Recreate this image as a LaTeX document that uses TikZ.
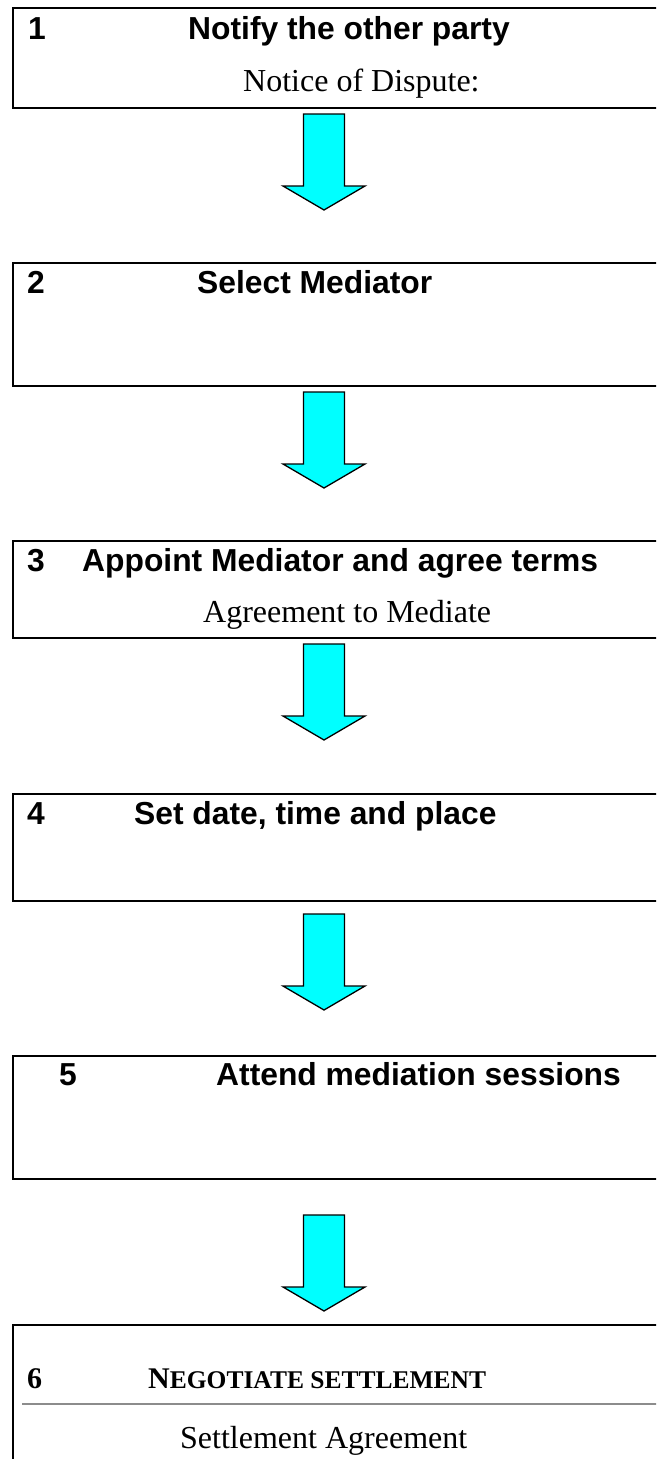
\documentclass[tikz,border=0pt]{standalone}
\usepackage{fontspec}
\setmainfont{Liberation Serif}
\newfontfamily\headfont{Liberation Sans}
\definecolor{aqua}{RGB}{0,255,255}
\definecolor{rulegray}{RGB}{140,140,140}
\begin{document}
\begin{tikzpicture}[x=1pt,y=-1pt,
  box/.style={draw=black, line width=2.2pt, anchor=north west, minimum width=690pt, inner sep=0pt},
  head/.style={anchor=base west, inner sep=0pt, font=\headfont\bfseries\fontsize{31.8pt}{36pt}\selectfont},
  sub/.style={anchor=base west, inner sep=0pt, font=\fontsize{32pt}{36pt}\selectfont},
  smc/.style={anchor=base west, inner sep=0pt, font=\bfseries\fontsize{30pt}{36pt}\selectfont},
  blockarrow/.style={draw=black, line width=1.3pt, fill=aqua, line join=miter},
  downarrow/.pic={\draw[blockarrow] (-20.5,0) -- (20.5,0) -- (20.5,72) -- (41,72) -- (0,96) -- (-41,72) -- (-20.5,72) -- cycle;}]
\useasboundingbox (0,0) rectangle (656,1459);
\clip (0,0) rectangle (656,1459);
% boxes
\node[box, minimum height=100pt] (b1) at (12,7) {};
\node[box, minimum height=123pt] (b2) at (12,262) {};
\node[box, minimum height=97pt] (b3) at (12,540) {};
\node[box, minimum height=107pt] (b4) at (12,793) {};
\node[box, minimum height=123pt] (b5) at (12,1055) {};
\node[box, minimum height=200pt] (b6) at (12,1324) {};
% texts
\node[head] (n1) at (28,39.4) {1};
\node[head] (t1) at (188,39.4) {Notify the other party};
\node[sub] (s1) at (243,91.6) {Notice of Dispute:};
\node[head] (n2) at (27,293.4) {2};
\node[head] (t2) at (197,293.4) {Select Mediator};
\node[head] (n3) at (27,571.4) {3};
\node[head] (t3) at (82,571.4) {Appoint Mediator and agree terms};
\node[sub] (s3) at (203,622.6) {Agreement to Mediate};
\node[head] (n4) at (27,824.4) {4};
\node[head] (t4) at (134,824.4) {Set date, time and place};
\node[head] (n5) at (59,1085.4) {5};
\node[head] (t5) at (216,1085.4) {Attend mediation sessions};
\node[smc] (n6) at (27,1388) {6};
\node[smc] (t6) at (148,1388) {N{\fontsize{25.5pt}{30pt}\selectfont EGOTIATE SETTLEMENT}};
\coordinate (r1) at (22,1404);
\coordinate (r2) at (670,1404);
\draw[rulegray, line width=2.5pt] (r1) -- (r2);
\node[sub] (s6) at (180,1448.6) {Settlement Agreement};
% arrows
\pic (a1) at (324,114) {downarrow};
\pic (a2) at (324,392) {downarrow};
\pic (a3) at (324,644) {downarrow};
\pic (a4) at (324,914) {downarrow};
\pic (a5) at (324,1215) {downarrow};
\end{tikzpicture}
\end{document}
